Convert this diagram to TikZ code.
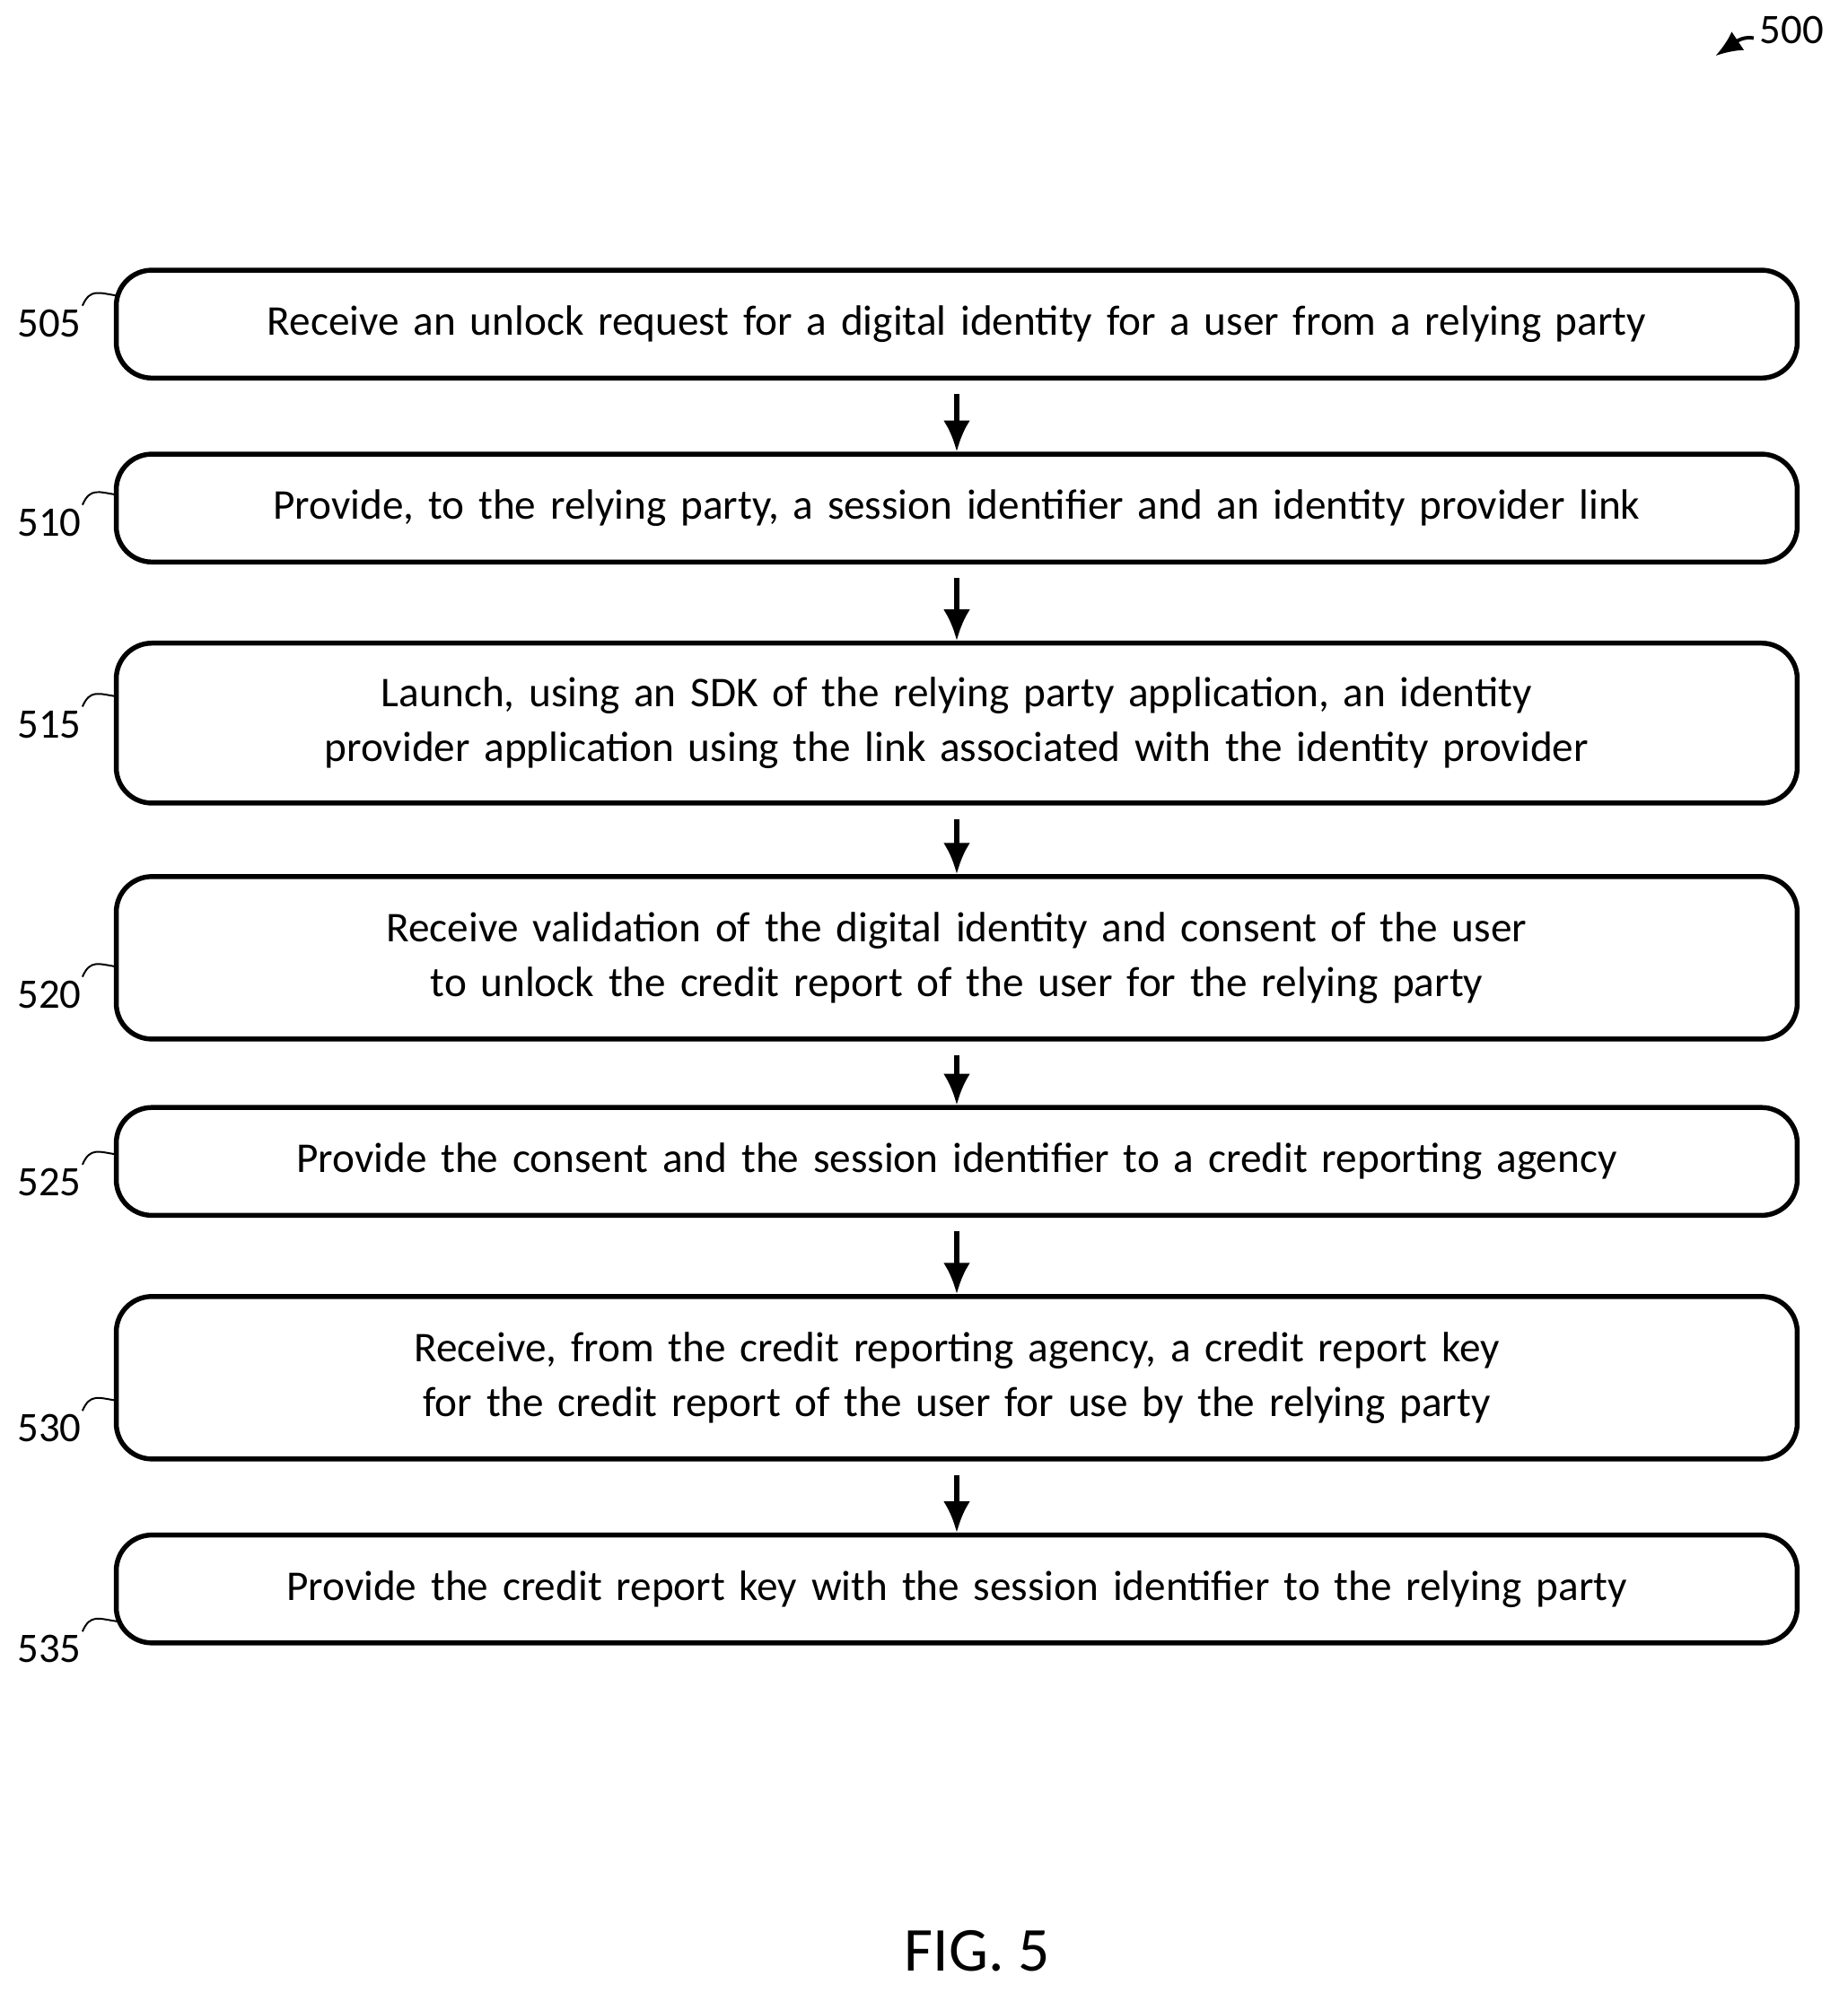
\documentclass[tikz,border=0pt]{standalone}
\usepackage{fontspec}
\setmainfont{Carlito}
\usetikzlibrary{positioning,arrows.meta}
\tikzset{
  stepbox/.style={draw, line width=1.1pt, rounded corners=8pt, minimum width=13.24cm, text width=13.24cm, inner xsep=0pt, align=center, font=\fontsize{9.5pt}{12.2pt}\selectfont},
  num/.style={font=\fontsize{9.4pt}{12pt}\selectfont, anchor=center},
  flow/.style={-{Latex[length=7pt,width=6pt]}, line width=1.1pt, shorten <=3pt}
}
\begin{document}
\begin{tikzpicture}[x=0.01cm, y=-0.01cm]
\useasboundingbox (0,0) rectangle (1456,1571);

\node[stepbox, minimum height=0.85cm] (s505) at (754,255.5) {Receive an unlock request for a digital identity for a user from a relying party};
\node[stepbox, minimum height=0.85cm] (s510) at (754,400.5) {Provide, to the relying party, a session identifier and an identity provider link};
\node[stepbox, minimum height=1.26cm] (s515) at (754,570) {Launch, using an SDK of the relying party application, an identity provider application using the link associated with the identity provider};
\node[stepbox, minimum height=1.28cm] (s520) at (754,755) {Receive validation of the digital identity and consent of the user to unlock the credit report of the user for the relying party};
\node[stepbox, minimum height=0.85cm] (s525) at (754,915.5) {Provide the consent and the session identifier to a credit reporting agency};
\node[stepbox, minimum height=1.28cm] (s530) at (754,1086) {Receive, from the credit reporting agency, a credit report key for the credit report of the user for use by the relying party};
\node[stepbox, minimum height=0.85cm] (s535) at (754,1252.5) {Provide the credit report key with the session identifier to the relying party};

\draw[flow] (s505) -- (s510);
\draw[flow] (s510) -- (s515);
\draw[flow] (s515) -- (s520);
\draw[flow] (s520) -- (s525);
\draw[flow] (s525) -- (s530);
\draw[flow] (s530) -- (s535);

% step numbers
\node[num] (n505) at (39,255) {505};
\node[num] (n510) at (39,412) {510};
\node[num] (n515) at (39,571) {515};
\node[num] (n520) at (39,784) {520};
\node[num] (n525) at (39,932) {525};
\node[num] (n530) at (39,1126) {530};
\node[num] (n535) at (39,1300) {535};
\foreach \n in {505,510,515,520,525,530,535}{
  \path (n\n.center) ++(26,-14) coordinate (b\n) (n\n.center) ++(53,-22) coordinate (e\n);
  \draw (b\n) .. controls +(6,-14) and +(-14,-2) .. (e\n);
}

\node[num] (n500) at (1412,24) {500};
\draw[-{Latex[length=6pt,width=5pt]}, thick] (1382,30) .. controls (1372,28) and (1364,36) .. (1352,44);

\node[font=\fontsize{14pt}{16pt}\selectfont] (fig) at (770,1538) {FIG. 5};
\end{tikzpicture}
\end{document}
